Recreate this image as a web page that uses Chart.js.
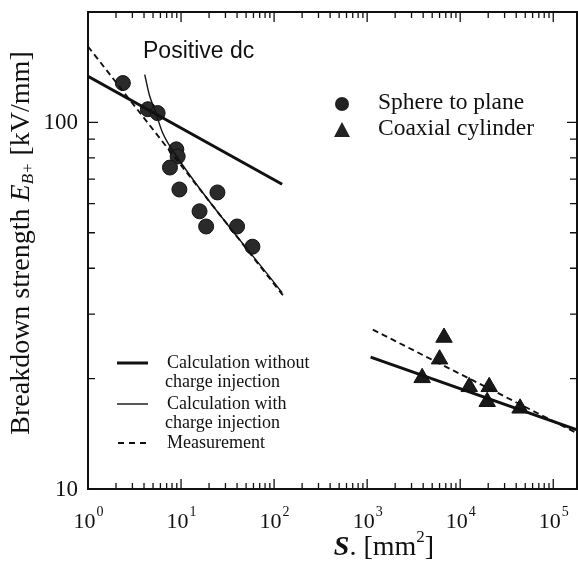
<!DOCTYPE html>
<html><head><meta charset="utf-8">
<script src="https://cdn.jsdelivr.net/npm/chart.js@4"></script>
<style>html,body{margin:0;padding:0;background:#fff}#wrap{width:578px;height:564px}</style>
</head><body><div id="wrap"><canvas id="c" width="578" height="564"></canvas></div>
<script>
// ---- data ----
const sphereS = [2.37, 4.4, 5.6, 8.9, 9.2, 7.6, 9.6, 24.6, 15.8, 18.6, 40, 58.5];
const sphereE = [128, 108.6, 106, 84.4, 80.7, 75.3, 65.6, 64.4, 57.2, 52, 52, 45.8];
const cylS = [3900, 6000, 6700, 12500, 20500, 19500, 44000];
const cylE = [20.1, 22.6, 25.9, 19.0, 19.0, 17.3, 16.6];
const calcNoLeftS = [1, 122];
const calcNoLeftE = [133.6, 67.8];
const calcNoRightS = [1090, 180000];
const calcNoRightE = [22.9, 14.5];
const calcWithS = [4.07, 4.6, 5.2, 6.3, 9.0, 122];
const calcWithE = [135, 118, 108.6, 94, 80.7, 34.3];
const measLeftS = [1, 125];
const measLeftE = [161, 33.7];
const measRightS = [1150, 180000];
const measRightE = [27.2, 14.2];
const xMajor = [1, 10, 100, 1000, 10000, 100000];
const xExp = ['0', '1', '2', '3', '4', '5'];
const yMajor = [10, 100];
const yLabels = ['10', '100'];
const xMin = 1, xMax = 180000, yMin = 10, yMax = 200;

function pts(xs, ys){ return xs.map((x,i)=>({x:x, y:ys[i]})); }

const INK = '#111';
const serif = '"Liberation Serif", "DejaVu Serif", serif';

const decor = {
  id: 'decor',
  afterDraw(chart){
    const ctx = chart.ctx, a = chart.chartArea;
    const xs = chart.scales.x, ys = chart.scales.y;
    ctx.save();
    ctx.strokeStyle = INK; ctx.fillStyle = INK;
    // frame
    ctx.lineWidth = 2;
    ctx.strokeRect(a.left, a.top, a.right - a.left, a.bottom - a.top);
    // x ticks (inside, top and bottom)
    ctx.lineWidth = 1.3;
    for (let d = 0; d < xMajor.length; d++) {
      for (let m = 1; m <= 9; m++) {
        const v = xMajor[d] * m;
        if (v > xMax) continue;
        const px = xs.getPixelForValue(v);
        const len = m === 1 ? 10 : 6;
        ctx.beginPath();
        ctx.moveTo(px, a.bottom); ctx.lineTo(px, a.bottom - len);
        ctx.moveTo(px, a.top); ctx.lineTo(px, a.top + len);
        ctx.stroke();
      }
    }
    // y ticks (inside, left and right)
    const yT = [10,20,30,40,50,60,70,80,90,100,200];
    yT.forEach(v => {
      const py = ys.getPixelForValue(v);
      const len = (v === 10 || v === 100) ? 10 : 7;
      ctx.beginPath();
      ctx.moveTo(a.left, py); ctx.lineTo(a.left + len, py);
      ctx.moveTo(a.right, py); ctx.lineTo(a.right - len, py);
      ctx.stroke();
    });
    // x tick labels
    ctx.textBaseline = 'alphabetic';
    xMajor.forEach((v, i) => {
      const px = xs.getPixelForValue(v);
      ctx.font = '22px ' + serif;
      const w1 = ctx.measureText('10').width;
      ctx.font = '14px ' + serif;
      const w2 = ctx.measureText(xExp[i]).width;
      const start = px - (w1 + w2) / 2;
      ctx.font = '22px ' + serif; ctx.textAlign = 'left';
      ctx.fillText('10', start, 528);
      ctx.font = '14px ' + serif;
      ctx.fillText(xExp[i], start + w1 + 1, 516);
    });
    // y tick labels
    ctx.font = '23px ' + serif; ctx.textAlign = 'right'; ctx.textBaseline = 'middle';
    yMajor.forEach((v, i) => ctx.fillText(yLabels[i], a.left - 10, ys.getPixelForValue(v) + 1));
    // y title
    ctx.save();
    ctx.translate(22, 243); ctx.rotate(-Math.PI / 2);
    ctx.textBaseline = 'middle'; ctx.textAlign = 'left';
    const parts = [
      ['Breakdown strength ', '28px ' + serif, 0],
      ['E', 'italic 28px ' + serif, 0],
      ['B+', 'italic 17px ' + serif, 7],
      [' [kV/mm]', '28px ' + serif, 0]
    ];
    let tw = 0;
    parts.forEach(p => { ctx.font = p[1]; tw += ctx.measureText(p[0]).width; });
    let cx = -tw / 2;
    parts.forEach(p => { ctx.font = p[1]; ctx.fillText(p[0], cx, p[2]); cx += ctx.measureText(p[0]).width; });
    ctx.restore();
    // x title
    ctx.textAlign = 'left'; ctx.textBaseline = 'alphabetic';
    const xp = [
      ['S', 'bold italic 28px ' + serif, 0],
      ['. [mm', '28px ' + serif, 0],
      ['2', '17px ' + serif, -13],
      [']', '28px ' + serif, 0]
    ];
    let xw = 0; xp.forEach(p => { ctx.font = p[1]; xw += ctx.measureText(p[0]).width; });
    let xx = 384 - xw / 2;
    xp.forEach(p => { ctx.font = p[1]; ctx.fillText(p[0], xx, 555 + p[2]); xx += ctx.measureText(p[0]).width; });
    // Positive dc
    ctx.font = '23px "Liberation Sans", Arial, sans-serif';
    ctx.textBaseline = 'middle';
    ctx.fillText('Positive dc', 143, 52);
    // marker legend
    ctx.fillStyle = '#222';
    ctx.beginPath(); ctx.arc(342, 104, 7, 0, Math.PI * 2); ctx.fill();
    ctx.beginPath(); ctx.moveTo(342, 122); ctx.lineTo(350, 137); ctx.lineTo(334, 137); ctx.closePath(); ctx.fill();
    ctx.fillStyle = INK;
    ctx.font = '23.5px ' + serif;
    ctx.fillText('Sphere to plane', 378, 103);
    ctx.fillText('Coaxial cylinder', 378, 129);
    // line legend
    ctx.font = '18px ' + serif;
    ctx.lineWidth = 3; ctx.beginPath(); ctx.moveTo(117, 363); ctx.lineTo(148, 363); ctx.stroke();
    ctx.lineWidth = 1.4; ctx.beginPath(); ctx.moveTo(117, 404); ctx.lineTo(148, 404); ctx.stroke();
    ctx.lineWidth = 1.8; ctx.setLineDash([6, 5]); ctx.beginPath(); ctx.moveTo(118, 443); ctx.lineTo(150, 443); ctx.stroke();
    ctx.setLineDash([]);
    ctx.fillText('Calculation without', 167, 363);
    ctx.fillText('charge injection', 165, 382);
    ctx.fillText('Calculation with', 167, 404);
    ctx.fillText('charge injection', 165, 423);
    ctx.fillText('Measurement', 167, 443);
    ctx.restore();
  }
};

const lineDs = (data, w, dash) => ({
  data, showLine: true, borderColor: INK, borderWidth: w, borderDash: dash || [],
  pointRadius: 0, fill: false, tension: 0
});

new Chart(document.getElementById('c'), {
  type: 'scatter',
  data: {
    datasets: [
      lineDs(pts(calcNoLeftS, calcNoLeftE), 3),
      lineDs(pts(calcNoRightS, calcNoRightE), 3),
      Object.assign(lineDs(pts(calcWithS, calcWithE), 1.4), {cubicInterpolationMode: 'monotone'}),
      lineDs(pts(measLeftS, measLeftE), 1.9, [6, 4]),
      lineDs(pts(measRightS, measRightE), 1.9, [6, 4]),
      { data: pts(sphereS, sphereE), pointStyle: 'circle', pointRadius: 7.5,
        backgroundColor: '#2a2a2a', borderColor: '#111', borderWidth: 1, showLine: false },
      { data: pts(cylS, cylE), pointStyle: 'triangle', pointRadius: 9.5,
        backgroundColor: '#1a1a1a', borderColor: '#111', borderWidth: 1, showLine: false }
    ]
  },
  options: {
    responsive: false, animation: false, devicePixelRatio: 1,
    layout: { autoPadding: false, padding: { left: 88, right: 1, top: 12, bottom: 75 } },
    plugins: { legend: { display: false }, tooltip: { enabled: false } },
    scales: {
      x: { type: 'logarithmic', min: xMin, max: xMax, display: false },
      y: { type: 'logarithmic', min: yMin, max: yMax, display: false }
    }
  },
  plugins: [decor]
});
</script></body></html>
